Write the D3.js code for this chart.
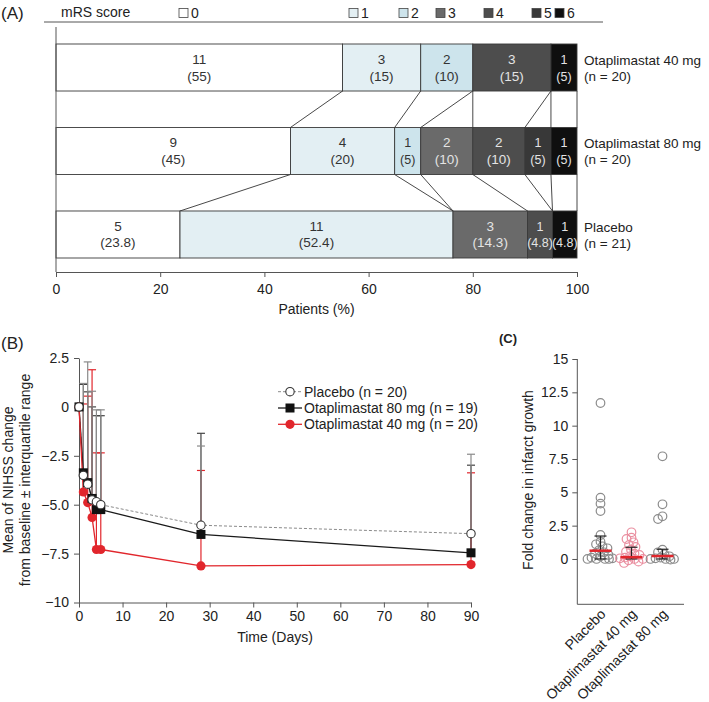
<!DOCTYPE html>
<html><head><meta charset="utf-8">
<script src="https://cdn.jsdelivr.net/npm/d3@7"></script>
<style>
body{margin:0;background:#fff}
svg{display:block;font-family:"Liberation Sans",Arial,Helvetica,sans-serif}
</style>
</head><body><svg id="c" width="709" height="702"></svg>
<script>
// ---------- Panel A data ----------
const mrsCategories = ["0","1","2","3","4","5","6"];
const mrsGroups = ["Otaplimastat 40 mg","Otaplimastat 80 mg","Placebo"];
const mrsGroupN = ["(n = 20)","(n = 20)","(n = 21)"];
const mrs40Counts = [11,3,2,0,3,0,1];
const mrs40Pct = [55,15,10,0,15,0,5];
const mrs80Counts = [9,4,1,2,2,1,1];
const mrs80Pct = [45,20,5,10,10,5,5];
const mrsPlaceboCounts = [5,11,0,3,1,0,1];
const mrsPlaceboPct = [23.8,52.4,0,14.3,4.8,0,4.8];
const pctTicks = [0,20,40,60,80,100];

// ---------- Panel B data ----------
const nihssDays = [0,1,2,3,4,5,28,90];
const placeboMean = [0,-3.5,-3.95,-4.75,-4.85,-5.0,-6.05,-6.48];
const placeboUpper = [null,1.2,2.3,0.8,-0.15,-0.15,-2.0,-2.42];
const ota80Mean = [0,-3.37,-3.87,-4.68,-5.25,-5.25,-6.52,-7.46];
const ota80Upper = [null,1.15,0.77,0.0,-0.45,-0.45,-1.35,-2.98];
const ota40Mean = [0,-4.35,-4.89,-5.65,-7.29,-7.29,-8.13,-8.06];
const ota40Upper = [null,0.15,0.55,1.9,-2.35,-2.35,-3.25,-3.37];
const nihssLegend = ["Placebo (n = 20)","Otaplimastat 80 mg (n = 19)","Otaplimastat 40 mg (n = 20)"];
const nihssYTicks = [2.5,0,-2.5,-5,-7.5,-10];
const nihssYLabels = ["2.5","0","\u22122.5","\u22125.0","\u22127.5","\u221210"];
const nihssXTicks = [0,10,20,30,40,50,60,70,80,90];

// ---------- Panel C data ----------
const infarctGroups = ["Placebo","Otaplimastat 40 mg","Otaplimastat 80 mg"];
const infarctPlacebo = [11.7,4.6,4.15,3.6,1.8,1.3,1.1,0.95,0.8,0.65,0.5,0.4,0.3,0.2,0.1,0.05,0,0,0,0];
const infarct40 = [2.0,1.6,1.5,1.25,1.05,0.9,0.7,0.55,0.4,0.3,0.2,0.1,0.05,0,0,-0.1,-0.2,-0.3];
const infarct80 = [7.7,4.1,3.2,3.0,0.7,0.5,0.35,0.2,0.1,0.05,0,0,0,-0.05];
const infarctMedian = [0.62,0.13,0.22];
const infarctQ1 = [0,0,0];
const infarctQ3 = [1.72,0.88,0.73];
const infarctTicks = [0,2.5,5,7.5,10,12.5,15];
const infarctTickLabels = ["0","2.5","5","7.5","10","12.5","15"];

// ---------- styles ----------
const mrsColors = ["#ffffff","#e3eff3","#cde4ec","#6a6a6a","#4d4d4d","#383838","#0f0f0f"];
const RED = "#e1262c";
const TXT = "#222";
const AX = "#555";

const svg = d3.select("#c");

function styleAxis(g, fs){
  g.select(".domain").attr("stroke",AX);
  g.selectAll(".tick line").attr("stroke",AX);
  g.selectAll(".tick text").attr("fill",TXT).style("font-size",fs).attr("font-family",null);
  g.attr("font-family",null).attr("font-size",null);
}

// =============== Panel A =================
const xA = d3.scaleLinear().domain([0,100]).range([56,577]);
const yA = d3.scaleBand().domain(mrsGroups).range([44,258]).paddingInner(0.437).paddingOuter(0);
const bwA = yA.bandwidth();
const rowsCounts = [mrs40Counts, mrs80Counts, mrsPlaceboCounts];
const rowsPct = [mrs40Pct, mrs80Pct, mrsPlaceboPct];

const gA = svg.append("g");
gA.append("text").attr("x",1).attr("y",19).style("font-size","17px").attr("fill",TXT).text("(A)");
gA.append("line").attr("x1",44).attr("x2",603).attr("y1",22).attr("y2",22).attr("stroke",AX);
gA.append("text").attr("x",61).attr("y",17).style("font-size","14px").attr("fill",TXT).text("mRS score");
const legX = [179,349,399,436,484,532,555];
mrsCategories.forEach((c,i)=>{
  gA.append("rect").attr("x",legX[i]).attr("y",8.5).attr("width",9).attr("height",9)
    .attr("fill",mrsColors[i]).attr("stroke","#444").attr("stroke-width",0.8);
  gA.append("text").attr("x",legX[i]+12).attr("y",17.5).style("font-size","14px").attr("fill",TXT).text(c);
});

const cums = rowsPct.map(p=>{
  let s=0; return p.map(v=>{const a=s; s+=v; return [a, Math.min(s,100)];});
});

for(let i=0;i<mrsGroups.length-1;i++){
  const yb = yA(mrsGroups[i])+bwA, yt = yA(mrsGroups[i+1]);
  for(let k=0;k<mrsCategories.length;k++){
    gA.append("line")
      .attr("x1",xA(cums[i][k][1])).attr("y1",yb)
      .attr("x2",xA(cums[i+1][k][1])).attr("y2",yt)
      .attr("stroke","#333").attr("stroke-width",0.9);
  }
}

mrsGroups.forEach((g,i)=>{
  const top = yA(g);
  rowsCounts[i].forEach((cnt,k)=>{
    if(cnt===0) return;
    const [a,b] = cums[i][k];
    const w = xA(b)-xA(a);
    gA.append("rect").attr("x",xA(a)).attr("y",top).attr("width",w).attr("height",bwA)
      .attr("fill",mrsColors[k]).attr("stroke","#3a3a3a").attr("stroke-width",0.9);
    const cx = (xA(a)+xA(b))/2;
    const col = k>=3 ? "#e4e4e4" : "#333";
    const fs = w < 30 ? "12.5px" : "13.5px";
    gA.append("text").attr("x",cx).attr("y",top+20).attr("text-anchor","middle")
      .style("font-size",fs).attr("fill",col).text(cnt);
    gA.append("text").attr("x",cx).attr("y",top+36.5).attr("text-anchor","middle")
      .style("font-size",fs).attr("fill",col).text("("+rowsPct[i][k]+")");
  });
  gA.append("text").attr("x",584).attr("y",top+21).style("font-size","13.5px").attr("fill",TXT).text(g);
  gA.append("text").attr("x",584).attr("y",top+37).style("font-size","13.5px").attr("fill",TXT).text(mrsGroupN[i]);
});

gA.append("line").attr("x1",56).attr("x2",56).attr("y1",27).attr("y2",272).attr("stroke",AX);
const axA = gA.append("g").attr("transform","translate(0,272)")
  .call(d3.axisBottom(xA).tickValues(pctTicks).tickSize(5).tickSizeOuter(0).tickPadding(7));
styleAxis(axA,"14px");
gA.append("text").attr("x",316.5).attr("y",314).attr("text-anchor","middle")
  .style("font-size","14px").attr("fill",TXT).text("Patients (%)");

// =============== Panel B =================
const xB = d3.scaleLinear().domain([0,90]).range([79,471]);
const yB = d3.scaleLinear().domain([-10,2.5]).range([602.5,358]);
const gB = svg.append("g");
gB.append("text").attr("x",1).attr("y",349).style("font-size","17px").attr("fill",TXT).text("(B)");

const axBy = gB.append("g").attr("transform","translate(79,0)")
  .call(d3.axisLeft(yB).tickValues(nihssYTicks).tickFormat((d,i)=>nihssYLabels[i]).tickSize(5).tickSizeOuter(0).tickPadding(5));
styleAxis(axBy,"14px");
const axBx = gB.append("g").attr("transform","translate(0,602.5)")
  .call(d3.axisBottom(xB).tickValues(nihssXTicks).tickSize(5).tickSizeOuter(0).tickPadding(4));
styleAxis(axBx,"14px");

gB.append("text").attr("x",275).attr("y",642).attr("text-anchor","middle")
  .style("font-size","14px").attr("fill",TXT).text("Time (Days)");
gB.append("text").attr("transform","translate(13,480) rotate(-90)").attr("text-anchor","middle")
  .style("font-size","14px").attr("fill",TXT).text("Mean of NIHSS change");
gB.append("text").attr("transform","translate(30,480) rotate(-90)").attr("text-anchor","middle")
  .style("font-size","14px").attr("fill",TXT).text("from baseline \u00b1 interquartile range");

const series = [
  {mean:ota40Mean, up:ota40Upper, ebColor:RED, lineColor:RED, dash:null, marker:"dot"},
  {mean:ota80Mean, up:ota80Upper, ebColor:"#444", lineColor:"#1a1a1a", dash:null, marker:"square"},
  {mean:placeboMean, up:placeboUpper, ebColor:"#8a8a8a", lineColor:"#8a8a8a", dash:"3,2", marker:"open"}
];
series.forEach(s=>{
  nihssDays.forEach((d,i)=>{
    if(s.up[i]===null) return;
    const x = xB(d);
    gB.append("line").attr("x1",x).attr("x2",x).attr("y1",yB(s.mean[i])).attr("y2",yB(s.up[i]))
      .attr("stroke",s.ebColor).attr("stroke-width",1.2);
    gB.append("line").attr("x1",x-4).attr("x2",x+4).attr("y1",yB(s.up[i])).attr("y2",yB(s.up[i]))
      .attr("stroke",s.ebColor).attr("stroke-width",1.2);
  });
});
const lineGen = m => d3.line().x((d,i)=>xB(nihssDays[i])).y(d=>yB(d))(m);
[series[2],series[1],series[0]].forEach(s=>{
  gB.append("path").attr("d",lineGen(s.mean)).attr("fill","none").attr("stroke",s.lineColor)
    .attr("stroke-width",s.marker==="open"?1:1.3).attr("stroke-dasharray",s.dash);
});
function marker(g, type, x, y){
  if(type==="square"){
    g.append("rect").attr("x",x-4.5).attr("y",y-4.5).attr("width",9).attr("height",9).attr("fill","#111");
  } else if(type==="dot"){
    g.append("circle").attr("cx",x).attr("cy",y).attr("r",4.6).attr("fill",RED);
  } else {
    g.append("circle").attr("cx",x).attr("cy",y).attr("r",4.2).attr("fill","#fff").attr("stroke","#333").attr("stroke-width",1.1);
  }
}
series.forEach(s=>{
  s.mean.forEach((v,i)=>marker(gB,s.marker,xB(nihssDays[i]),yB(v)));
});
const legOrder = [series[2],series[1],series[0]];
legOrder.forEach((s,i)=>{
  const y = 391.7 + i*16.3;
  gB.append("line").attr("x1",278).attr("x2",302).attr("y1",y).attr("y2",y)
    .attr("stroke",s.lineColor).attr("stroke-width",s.marker==="open"?1:1.3).attr("stroke-dasharray",s.dash);
  marker(gB,s.marker,290,y);
  gB.append("text").attr("x",304).attr("y",y+5).style("font-size","14px").attr("fill",TXT).text(nihssLegend[i]);
});

// =============== Panel C =================
const yC = d3.scaleLinear().domain([-3.4,15]).range([604.3,359]);
const xC = d3.scalePoint().domain(infarctGroups).range([600.5,662.5]);
const gC = svg.append("g");
gC.append("text").attr("x",499).attr("y",343).style("font-size","13px").style("font-weight","bold").attr("fill",TXT).text("(C)");
const axCy = gC.append("g").attr("transform","translate(577.3,0)")
  .call(d3.axisLeft(yC).tickValues(infarctTicks).tickFormat((d,i)=>infarctTickLabels[i]).tickSize(5).tickSizeOuter(0).tickPadding(4));
styleAxis(axCy,"14px");
axCy.select(".domain").attr("d","M0,"+yC(15)+"V604.3");
gC.append("line").attr("x1",577.3).attr("x2",684).attr("y1",604.3).attr("y2",604.3).attr("stroke",AX);
gC.append("text").attr("transform","translate(533,480) rotate(-90)").attr("text-anchor","middle")
  .style("font-size","14px").attr("fill",TXT).text("Fold change in infarct growth");
infarctGroups.forEach(g=>{
  gC.append("text").attr("transform",`translate(${xC(g)+6},615) rotate(-45)`).attr("text-anchor","end")
    .style("font-size","14px").attr("fill",TXT).text(g);
});

// deterministic bounded beeswarm
function swarm(values, cx, minDist, maxOff){
  const placed=[];
  const sorted = values.slice().sort((a,b)=>b-a);
  sorted.forEach(v=>{
    const y = yC(v);
    let best=null, bestD=-1, found=false;
    for(let k=0;k<=maxOff*4;k++){
      const off = (k%2===0? 1:-1)*Math.ceil(k/2)*0.5;
      const x = cx+off;
      const d = placed.length ? Math.min(...placed.map(p=>Math.hypot(p.x-x,p.y-y))) : Infinity;
      if(d >= minDist){ placed.push({x,y}); found=true; break; }
      if(d > bestD){ bestD=d; best=x; }
    }
    if(!found) placed.push({x:best,y});
  });
  return placed;
}
const cSets = [infarctPlacebo, infarct40, infarct80];
const cColors = ["#8c8c8c","#ea8fa0","#8c8c8c"];
cSets.forEach((vals,gi)=>{
  const pts = swarm(vals, xC(infarctGroups[gi]), 5, 13);
  pts.forEach(p=>{
    gC.append("circle").attr("cx",p.x).attr("cy",p.y).attr("r",4.3).attr("fill","none")
      .attr("stroke",cColors[gi]).attr("stroke-width",1.2);
  });
});
infarctGroups.forEach((g,gi)=>{
  const x = xC(g);
  gC.append("line").attr("x1",x).attr("x2",x).attr("y1",yC(infarctQ1[gi])).attr("y2",yC(infarctQ3[gi]))
    .attr("stroke","#222").attr("stroke-width",1.2);
  [infarctQ1[gi],infarctQ3[gi]].forEach(v=>{
    gC.append("line").attr("x1",x-6).attr("x2",x+6).attr("y1",yC(v)).attr("y2",yC(v))
      .attr("stroke","#222").attr("stroke-width",1.2);
  });
  gC.append("line").attr("x1",x-11).attr("x2",x+11).attr("y1",yC(infarctMedian[gi])).attr("y2",yC(infarctMedian[gi]))
    .attr("stroke",RED).attr("stroke-width",2.5);
});
</script>
</body></html>
